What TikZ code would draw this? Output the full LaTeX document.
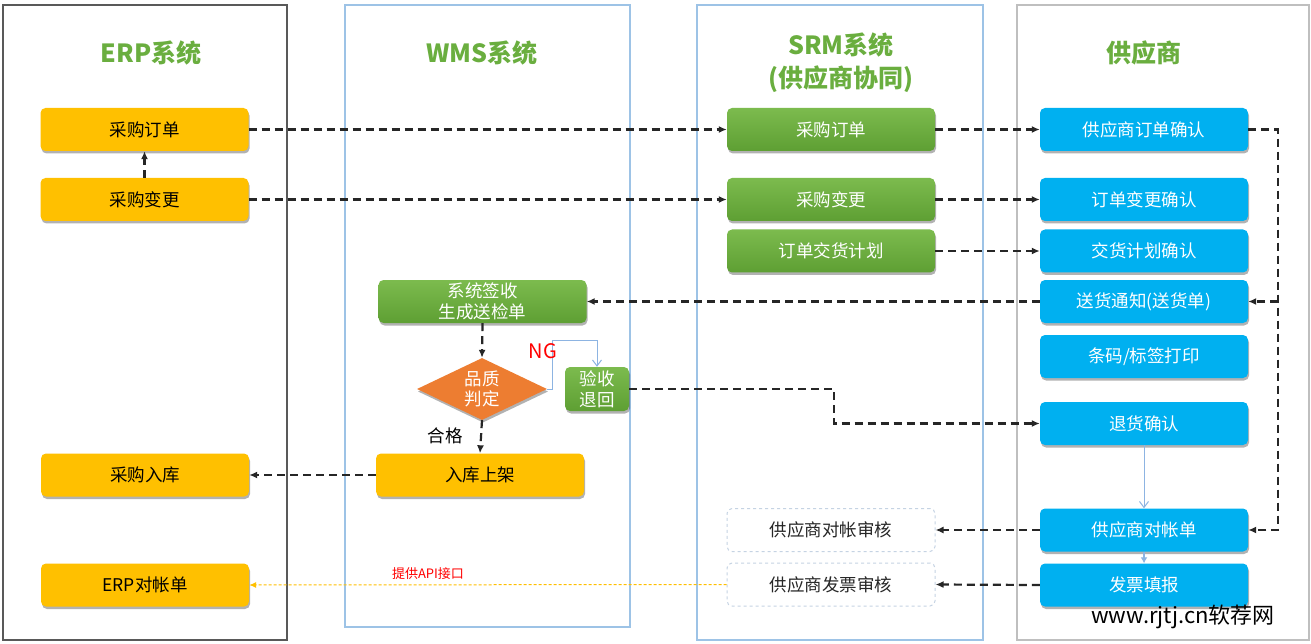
\documentclass[tikz,border=0pt]{standalone}
\usepackage{fontspec}
\setmainfont{Noto Sans CJK SC}
\usetikzlibrary{shapes.geometric,shadows,arrows.meta,calc}
\definecolor{ygold}{HTML}{FFC000}
\definecolor{gtop}{HTML}{7CBB4E}
\definecolor{gbot}{HTML}{5E9F33}
\definecolor{sblue}{HTML}{00B0F0}
\definecolor{lblue}{HTML}{8DB4E2}
\definecolor{lanebl}{HTML}{9DC3E6}
\definecolor{dashc}{HTML}{C5D3E3}
\definecolor{titleg}{HTML}{6AAE3F}
\definecolor{dorange}{HTML}{ED7D31}
\begin{document}
\begin{tikzpicture}[x=1pt,y=-1pt,
  shd/.style={drop shadow={shadow xshift=1pt,shadow yshift=-2.5pt,opacity=0.3,fill=black}},
  base/.style={rounded corners=5pt,minimum width=208pt,minimum height=43pt,inner sep=0pt,
    align=center,font=\fontsize{17.5}{21}\selectfont},
  ybox/.style={base,shd,fill=ygold,text=black},
  gbox/.style={base,shd,top color=gtop,bottom color=gbot,text=white},
  bbox/.style={base,shd,fill=sblue,text=white},
  dbox/.style={base,fill=white,draw=dashc,dashed,line width=1pt,text=black!85},
  titletext/.style={font=\fontsize{25}{33}\selectfont\bfseries,text=titleg,align=center},
  arr/.style={draw=black!85,line width=2.2pt,dash pattern=on 8pt off 5pt,-{Latex[length=8pt,width=7pt]}},
  tarr/.style={draw=lblue,line width=1pt,-{Straight Barb[length=6pt,width=9pt]}},
  tarr2/.style={draw=lblue,line width=1.2pt,-{Latex[length=6pt,width=7pt]}},
  oarr/.style={draw=ygold,line width=1pt,dash pattern=on 3pt off 2pt,-{Latex[length=7pt,width=6pt]}},
  lbl/.style={font=\fontsize{17.5}{21}\selectfont}
]
\useasboundingbox (0,0) rectangle (1311,644);
\fill[white] (0,0) rectangle (1311,644);
% lanes
\draw[draw=black!65,line width=1.5pt] (3,5) rectangle (287,640);
\draw[draw=lanebl,line width=1.3pt] (345,5) rectangle (630,627);
\draw[draw=lanebl,line width=1.3pt] (697,5) rectangle (983,640);
\draw[draw=black!25,line width=1.3pt] (1017,5) rectangle (1309,640);
% titles
\node[titletext] (t1) at (151,53) {ERP系统};
\node[titletext] (t2) at (482,53) {WMS系统};
\node[titletext] (t3) at (841,63) {SRM系统\\(供应商协同)};
\node[titletext] (t4) at (1144,53) {供应商};
% ERP
\node[ybox] (e1) at (144.5,129.5) {采购订单};
\node[ybox] (e2) at (144.5,199.5) {采购变更};
\node[ybox] (e3) at (145,475) {采购入库};
\node[ybox] (e4) at (145,585) {ERP对帐单};
% WMS
\node[gbox] (w1) at (482.5,301.5) {系统签收\\生成送检单};
\node[diamond,shd,fill=dorange,text=white,minimum width=130pt,minimum height=62pt,
  inner sep=0pt,shape aspect=2.1,align=center,font=\fontsize{17.5}{20}\selectfont] (dia) at (482,389) {品质\\判定};
\node[gbox,minimum width=64pt,minimum height=44pt] (ys) at (597,389) {验收\\退回};
\node[ybox] (w2) at (480,475) {入库上架};
% SRM
\node[gbox] (r1) at (831,129.5) {采购订单};
\node[gbox] (r2) at (831,199.5) {采购变更};
\node[gbox] (r3) at (831,251) {订单交货计划};
\node[dbox] (r4) at (831,530) {供应商对帐审核};
\node[dbox] (r5) at (831,584.5) {供应商发票审核};
% supplier
\node[bbox] (s1) at (1144,129.5) {供应商订单确认};
\node[bbox] (s2) at (1144,199.5) {订单变更确认};
\node[bbox] (s3) at (1144,251) {交货计划确认};
\node[bbox] (s4) at (1144,301.5) {送货通知(送货单)};
\node[bbox] (s5) at (1144,356.5) {条码/标签打印};
\node[bbox] (s6) at (1144,423.5) {退货确认};
\node[bbox] (s7) at (1144,530) {供应商对帐单};
\node[bbox] (s8) at (1144,585) {发票填报};
% helper coordinates
\coordinate (rx) at (1278,0);
\coordinate (rt) at (834,0);
\coordinate (ngc) at (552,340);
% connectors
\draw[arr] (e1.east) -- (r1.west);
\draw[arr] (e2.east) -- (r2.west);
\draw[arr] (e2.north) -- (e1.south);
\draw[arr] (r1.east) -- (s1.west);
\draw[arr] (r2.east) -- (s2.west);
\draw[arr] (r3.east) -- (s3.west);
\draw[arr] (s1.east) -| (rx |- s7.east) -- (s7.east);
\draw[arr] (rx |- s4.east) -- (s4.east);
\draw[arr] (s4.west) -- (w1.east);
\draw[arr] (w1.south) -- (dia.north);
\draw[arr] (dia.south) -- (w2.north);
\draw[tarr] (dia.east) -- (dia.east -| ngc) -- (ngc) -| (ys.north);
\draw[arr] (ys.east) -| (rt |- s6.west) -- (s6.west);
\draw[arr] (w2.west) -- (e3.east);
\draw[tarr] (s6.south) -- (s7.north);
\draw[tarr2] (s7.south) -- (s8.north);
\draw[arr] (s7.west) -- (r4.east);
\draw[arr] (s8.west) -- (r5.east);
\draw[oarr] (r5.west) -- (e4.east);
% labels
\node[lbl] (ok) at (445,436) {合格};
\node[font=\fontsize{20}{22}\selectfont,text=red] (ng) at (543,351) {NG};
\node[font=\fontsize{13}{15}\selectfont,text=red] (api) at (428,574) {提供API接口};
\node[font=\fontsize{22}{24}\selectfont,text=black] (wm) at (1183,617) {www.rjtj.cn软荐网};
\end{tikzpicture}
\end{document}
